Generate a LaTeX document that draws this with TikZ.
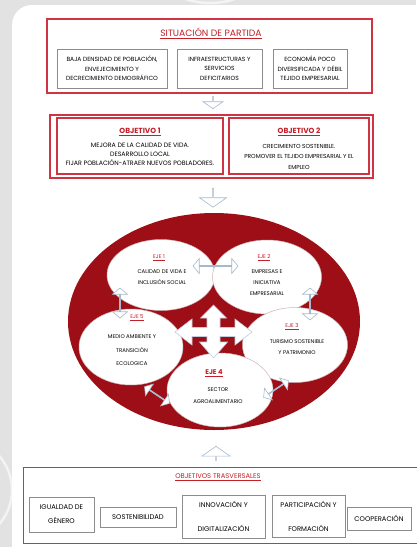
\documentclass[tikz,border=0pt]{standalone}
\usepackage{fontspec}
\setmainfont{Poppins}
\usetikzlibrary{shapes.arrows,shapes.geometric}
\definecolor{bg}{RGB}{226,226,226}
\definecolor{boxred}{RGB}{206,52,66}
\definecolor{ringred}{RGB}{158,14,22}
\definecolor{arrowc}{RGB}{165,185,205}
\definecolor{greyline}{RGB}{140,140,140}
\definecolor{titlered}{RGB}{196,30,40}
\definecolor{bubline}{RGB}{205,180,180}
\tikzset{
  redbox/.style={draw=boxred, line width=1.1pt, fill=none, inner sep=0pt},
  greybox/.style={draw=greyline, line width=0.6pt, fill=white, inner sep=0pt, align=center},
  bubble/.style={ellipse, draw=bubline, line width=0.5pt, fill=white, inner sep=0pt},
  hollow/.style={draw=arrowc, fill=white, line width=0.6pt, inner sep=0pt, outer sep=0pt},
  dblarrow/.style={hollow, double arrow, double arrow head extend=4.5pt, double arrow tip angle=100},
  sglarrow/.style={hollow, single arrow, single arrow tip angle=110},
  body/.style={font=\fontsize{6}{9.5}\selectfont, align=center, inner sep=0pt},
  bubtxt/.style={font=\fontsize{5.4}{11}\selectfont, align=center, inner sep=0pt},
  ejelab/.style={font=\fontsize{5.4}{6}\selectfont, text=titlered, inner sep=0pt},
  bottxt/.style={font=\fontsize{6.8}{14}\selectfont},
}
\begin{document}
\begin{tikzpicture}[x=1pt,y=-1pt]
\useasboundingbox (0,0) rectangle (416,547);
% background
\fill[bg] (0,0) rectangle (416,547);
\draw[white, line width=2.5pt, opacity=0.6] (-40,490) circle[radius=52];
\draw[white, line width=2.5pt, opacity=0.6] (210,-75) circle[radius=78];
\fill[white, rounded corners=20pt] (12,5) rectangle (450,580);

% ---------- SITUACION DE PARTIDA ----------
\node[redbox, minimum width=325, minimum height=74] (sit) at (209.5,56) {};
\node[font=\fontsize{9.2}{10}\selectfont, text=titlered, inner sep=0pt] (sittitle) at (211,33) {\underline{SITUACIÓN DE PARTIDA}};
\node[greybox, body, minimum width=110, minimum height=39] (s1) at (112,68.5)
  {BAJA DENSIDAD DE POBLACIÓN,\\ ENVEJECIMIENTO Y\\ DECRECIMIENTO DEMOGRÁFICO};
\node[greybox, body, minimum width=85, minimum height=39] (s2) at (219.5,68.5)
  {INFRAESTRUCTURAS Y\\ SERVICIOS\\ DEFICITARIOS};
\node[greybox, body, minimum width=74, minimum height=39] (s3) at (310,68.5)
  {ECONOMÍA POCO\\ DIVERSIFICADA Y DÉBIL\\ TEJIDO EMPRESARIAL};

\node[sglarrow, rotate=-90, minimum height=12, minimum width=20, single arrow head extend=5pt] (a1) at (213,102.5) {};

% ---------- OBJETIVOS ----------
\node[redbox, minimum width=323, minimum height=63] (obj) at (211.5,146.5) {};
\node[redbox, line width=1.4pt, minimum width=166, minimum height=56] (o1) at (140,146) {};
\node[redbox, line width=1.4pt, minimum width=140, minimum height=56] (o2) at (299,146) {};
\node[font=\bfseries\fontsize{7.4}{8}\selectfont, text=titlered, inner sep=0pt] (o1t) at (140,132) {\underline{OBJETIVO 1}};
\node[font=\bfseries\fontsize{7.4}{8}\selectfont, text=titlered, inner sep=0pt] (o2t) at (299,132) {\underline{OBJETIVO 2}};
\node[body, font=\fontsize{6.3}{9}\selectfont] (o1x) at (140,154.5) {MEJORA DE LA CALIDAD DE VIDA.\\ DESARROLLO LOCAL\\ FIJAR POBLACIÓN-ATRAER NUEVOS POBLADORES.};
\node[body, font=\fontsize{5.8}{10.5}\selectfont] (o2x) at (299,156.5) {CRECIMIENTO SOSTENIBLE.\\ PROMOVER EL TEJIDO EMPRESARIAL Y EL\\ EMPLEO};

\node[sglarrow, rotate=-90, minimum height=19, minimum width=27, single arrow head extend=7pt] (a2) at (213,197.5) {};

% ---------- EJES ----------
\node[ellipse, fill=ringred, minimum width=292, minimum height=217, inner sep=0pt] (ring) at (214,321.5) {};
\node[bubble, minimum width=108, minimum height=71] (e1) at (161,275) {};
\node[bubble, minimum width=109, minimum height=74] (e2) at (267,277) {};
\node[bubble, minimum width=104, minimum height=76] (e5) at (131,347) {};
\node[bubble, minimum width=105, minimum height=75] (e3) at (295,345) {};
\node[bubble, minimum width=106, minimum height=74] (e4) at (220,390) {};

\node[ejelab] (e1l) at (159,258) {\underline{EJE 1}};
\node[bubtxt] (e1x) at (162,277.5) {CALIDAD DE VIDA E\\ INCLUSIÓN SOCIAL};
\node[ejelab] (e2l) at (264,258) {\underline{EJE 2}};
\node[bubtxt] (e2x) at (267,283) {EMPRESAS E\\ INICIATIVA\\ EMPRESARIAL};
\node[ejelab] (e5l) at (137,318) {\underline{EJE 5}};
\node[bubtxt, font=\fontsize{5.4}{13.5}\selectfont] (e5x) at (132,350.5) {MEDIO AMBIENTE Y\\ TRANSICIÓN\\ ECOLOGICA};
\node[ejelab] (e3l) at (292,327) {\underline{EJE 3}};
\node[bubtxt] (e3x) at (297,347.5) {TURISMO SOSTENIBLE\\ Y PATRIMONIO};
\node[font=\bfseries\fontsize{6.8}{7}\selectfont, text=titlered, inner sep=0pt] (e4l) at (214,373) {\underline{EJE 4}};
\node[bubtxt, font=\fontsize{5.4}{12}\selectfont] (e4x) at (218,396) {SECTOR\\ AGROALIMENTARIO};

% arrows between ejes
\node[dblarrow, minimum height=45, minimum width=15] (a12) at (215.5,266) {};
\node[dblarrow, rotate=90, minimum height=30, minimum width=15, double arrow head extend=4pt] (a15) at (120,303) {};
\node[dblarrow, rotate=90, minimum height=32, minimum width=15, double arrow head extend=4pt] (a23) at (310,304) {};
\node[dblarrow, rotate=-34, minimum height=30, minimum width=14, double arrow head extend=4pt] (a54) at (157,395) {};
\node[dblarrow, rotate=34, minimum height=30, minimum width=14, double arrow head extend=4pt] (a43) at (276,389) {};

% central cross
\coordinate (cc) at (213.5,332);
\filldraw[hollow, draw=arrowc!70, shift={(cc)}]
  (0,-27) -- (13,-14) -- (6.5,-14) -- (6.5,-4.5) -- (21.5,-4.5) -- (21.5,-13) -- (38.5,0)
  -- (21.5,13) -- (21.5,4.5) -- (6.5,4.5) -- (6.5,10) -- (14,10) -- (0,26) -- (-14,10)
  -- (-6.5,10) -- (-6.5,4.5) -- (-21.5,4.5) -- (-21.5,13) -- (-38.5,0) -- (-21.5,-13)
  -- (-21.5,-4.5) -- (-6.5,-4.5) -- (-6.5,-14) -- (-13,-14) -- cycle;

\node[sglarrow, rotate=90, minimum height=14, minimum width=28, single arrow head extend=7pt] (a3) at (216,453.5) {};

% ---------- OBJETIVOS TRASVERSALES ----------
\node[redbox, minimum width=402, minimum height=76, anchor=north west] (trv) at (23,467) {};
\node[font=\fontsize{6.8}{8}\selectfont, text=titlered, inner sep=0pt] (trvt) at (218,477) {\underline{OBJETIVOS TRASVERSALES}};
\node[greybox, bottxt, minimum width=65, minimum height=35] (g1) at (61.5,514.5) {IGUALDAD DE\\ GÉNERO};
\node[greybox, bottxt, minimum width=76, minimum height=20] (g2) at (138,517) {SOSTENIBILIDAD};
\node[greybox, bottxt, font=\fontsize{6.8}{24}\selectfont, minimum width=83, minimum height=43] (g3) at (223.5,516.5) {INNOVACIÓN Y\\ DIGITALIZACIÓN};
\node[greybox, bottxt, font=\fontsize{6.8}{24}\selectfont, minimum width=73, minimum height=42] (g4) at (308.5,516) {PARTICIPACIÓN Y\\ FORMACIÓN};
\node[greybox, bottxt, minimum width=64, minimum height=23] (g5) at (379,518.5) {COOPERACIÓN};
\end{tikzpicture}
\end{document}
